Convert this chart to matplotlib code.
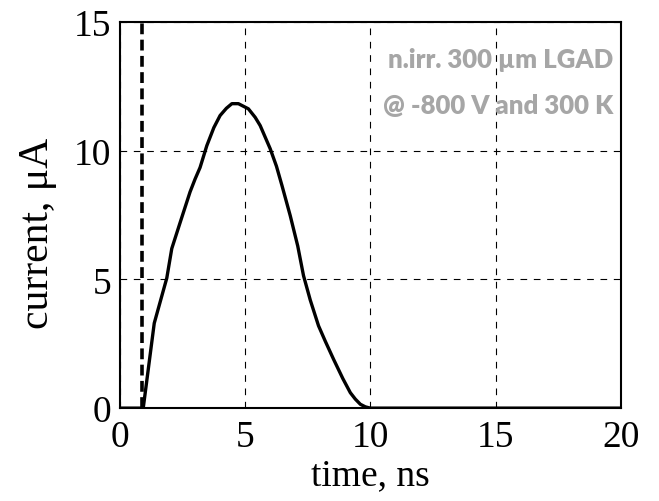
import numpy as np
import matplotlib
matplotlib.use("Agg")
import matplotlib.pyplot as plt

# data
time_ns = [0, 0.93, 1.37, 1.87, 2.07, 2.4, 2.6, 2.8, 3.0, 3.2, 3.47, 3.75, 4.0, 4.25,
           4.47, 4.73, 5.13, 5.4, 5.6, 6.0, 6.25, 6.47, 6.8, 7.1, 7.33, 7.6, 7.93,
           8.2, 8.53, 8.9, 9.2, 9.4, 9.6, 9.8, 10.0, 20]
current_uA = [0, 0, 3.3, 5.05, 6.2, 7.2, 7.8, 8.4, 8.9, 9.35, 10.2, 10.9, 11.37, 11.65,
              11.83, 11.83, 11.63, 11.3, 10.98, 10.08, 9.4, 8.65, 7.48, 6.3, 5.15, 4.2, 3.2,
              2.6, 1.9, 1.15, 0.6, 0.35, 0.15, 0.05, 0, 0]
trigger_t = 0.9
xticks = [0, 5, 10, 15, 20]
yticks = [0, 5, 10, 15]
label_lines = ["n.irr. 300 \u00b5m LGAD", "@ -800 V and 300 K"]

plt.rcParams['font.family'] = ['Liberation Serif', 'DejaVu Serif']

fig = plt.figure(figsize=(6.59, 5.02), dpi=100)
ax = fig.add_axes([0.182, 0.185, 0.760, 0.769])

ax.plot(time_ns, current_uA, color='black', lw=2.4, solid_joinstyle='round', zorder=3)
ax.axvline(trigger_t, color='black', lw=2.6, ls=(0, (3, 1.5)), zorder=3)

ax.set_xlim(0, 20)
ax.set_ylim(0, 15)
ax.set_xticks(xticks)
ax.set_yticks(yticks)
ax.grid(True, color='black', ls=(0, (6, 6)), lw=0.8)
for s in ax.spines.values():
    s.set_linewidth(1.5)
ax.tick_params(direction='in', length=0, labelsize=27)
ax.tick_params(axis='x', pad=8)
ax.tick_params(axis='y', pad=6)
ax.set_xlabel('time, ns', fontsize=27, labelpad=3)
ax.set_ylabel('current, \u03bcA', fontsize=30)
ax.yaxis.set_label_coords(-0.125, 0.455)

# gray annotation, top right
for line, ypos in zip(label_lines, [0.905, 0.785]):
    ax.text(0.985, ypos, line, transform=ax.transAxes, ha='right', va='center',
            fontsize=18.5, fontweight='heavy', color='#a6a6a6',
            family=['Lato', 'DejaVu Sans'])

fig.savefig('out.png', dpi=100)
